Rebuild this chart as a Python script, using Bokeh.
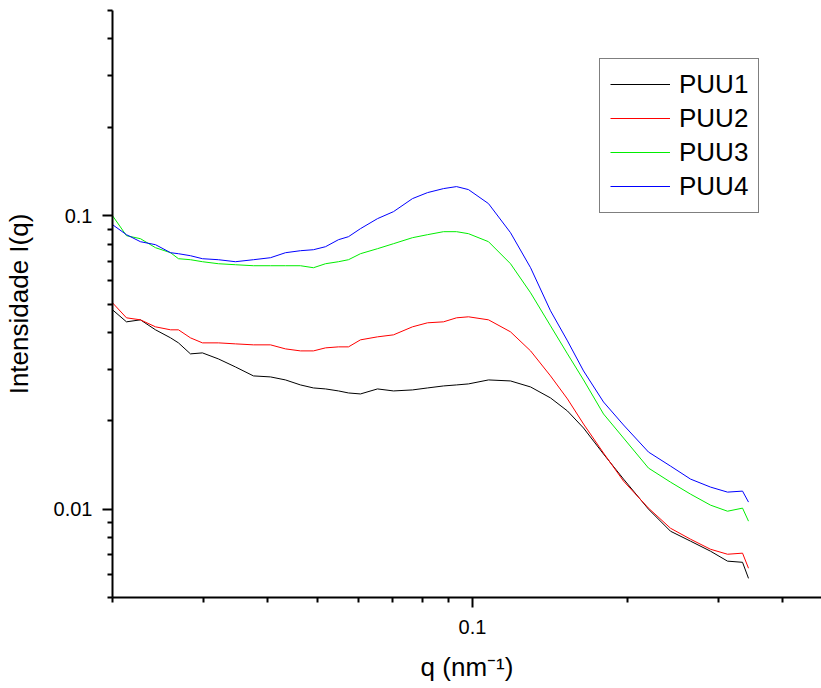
from bokeh.plotting import figure
from bokeh.models import Range1d, FixedTicker, ColumnDataSource, Legend, LegendItem
from bokeh.embed import file_html
from bokeh.resources import INLINE

# ---- data ----
q = [0.0200, 0.02129, 0.02266, 0.02424, 0.02593, 0.02686, 0.02834, 0.0299,
     0.03211, 0.03465, 0.03756, 0.04053, 0.04334, 0.04634, 0.04911, 0.05184,
     0.05493, 0.05744, 0.0606, 0.06539, 0.07024, 0.07646, 0.08178, 0.08784,
     0.0931, 0.09822, 0.10742, 0.11852, 0.12965, 0.14174, 0.1529, 0.16428,
     0.17963, 0.19645, 0.21963, 0.24235, 0.26504, 0.28981, 0.31271, 0.33443,
     0.34347]

puu1 = [0.04777, 0.04347, 0.04416, 0.04083, 0.03834, 0.03686, 0.03381, 0.03407,
        0.0325, 0.03052, 0.02844, 0.02822, 0.02756, 0.0265, 0.02588, 0.02568,
        0.02528, 0.02488, 0.02469, 0.02568, 0.02528, 0.02548, 0.02588, 0.02629,
        0.0265, 0.02671, 0.02756, 0.02734, 0.02608, 0.02393, 0.0216, 0.0189,
        0.01541, 0.01266, 0.01, 0.00841, 0.00778, 0.00719, 0.00665, 0.00659,
        0.00581]

puu2 = [0.05047, 0.04486, 0.04416, 0.0418, 0.04083, 0.04083, 0.03834, 0.03686,
        0.03686, 0.03657, 0.03629, 0.03629, 0.03516, 0.03461, 0.03461, 0.03544,
        0.03572, 0.03572, 0.03774, 0.03864, 0.03925, 0.0418, 0.04314, 0.04347,
        0.04486, 0.04522, 0.04416, 0.04019, 0.03461, 0.02844, 0.02374, 0.0195,
        0.01553, 0.01246, 0.01008, 0.00861, 0.0079, 0.0073, 0.00702, 0.00708,
        0.00629]

puu3 = [0.1, 0.08546, 0.08346, 0.07777, 0.07477, 0.07133, 0.07077, 0.06967,
        0.06858, 0.06804, 0.06751, 0.06751, 0.06751, 0.06751, 0.06646, 0.06858,
        0.06967, 0.07077, 0.07418, 0.07716, 0.08025, 0.08412, 0.08613, 0.08818,
        0.08818, 0.08681, 0.08152, 0.06858, 0.0546, 0.04213, 0.03381, 0.02756,
        0.0211, 0.01747, 0.0138, 0.01236, 0.01125, 0.01032, 0.00984, 0.01008,
        0.0091]

puu4 = [0.09317, 0.08613, 0.08152, 0.07962, 0.07477, 0.07418, 0.07303, 0.07133,
        0.07077, 0.06967, 0.07077, 0.07189, 0.07477, 0.07595, 0.07655, 0.07838,
        0.08281, 0.08479, 0.09029, 0.09767, 0.10319, 0.11429, 0.11981, 0.12364,
        0.1256, 0.12267, 0.10989, 0.08749, 0.06646, 0.0474, 0.03744, 0.02958,
        0.02318, 0.01935, 0.01565, 0.01402, 0.01266, 0.01189, 0.01143, 0.01152,
        0.01057]

series_names = ["PUU1", "PUU2", "PUU3", "PUU4"]
series_colors = ["#000000", "#ff0000", "#00ee00", "#0000ff"]

x_major = [0.1]
x_minor = [0.02, 0.03, 0.04, 0.05, 0.06, 0.07, 0.08, 0.09, 0.2, 0.3, 0.4]
x_labels = {0.1: "0.1"}
y_major = [0.01, 0.1]
y_minor = [0.005, 0.006, 0.007, 0.008, 0.009, 0.02, 0.03, 0.04, 0.05, 0.06,
           0.07, 0.08, 0.09, 0.2, 0.3, 0.4, 0.5]
y_labels = {0.01: "0.01", 0.1: "0.1"}

FONT = "Liberation Sans"

p = figure(width=821, height=688, x_axis_type="log", y_axis_type="log",
           x_range=Range1d(0.02, 0.476), y_range=Range1d(0.005, 0.5),
           output_backend="svg", toolbar_location=None,
           min_border_left=112, min_border_right=0, min_border_top=10,
           min_border_bottom=91)

p.outline_line_color = None
p.xgrid.visible = False
p.ygrid.visible = False
p.background_fill_color = "white"
p.border_fill_color = "white"

items = []
for name, col, ys in zip(series_names, series_colors, [puu1, puu2, puu3, puu4]):
    src = ColumnDataSource(data=dict(x=q, y=ys))
    r = p.line("x", "y", source=src, line_color=col, line_width=1)
    items.append(LegendItem(label=name, renderers=[r]))

p.xaxis.ticker = FixedTicker(ticks=x_major, minor_ticks=x_minor)
p.yaxis.ticker = FixedTicker(ticks=y_major, minor_ticks=y_minor)
p.xaxis.major_label_overrides = x_labels
p.yaxis.major_label_overrides = y_labels

for ax in (p.xaxis[0], p.yaxis[0]):
    ax.axis_line_width = 2
    ax.axis_line_color = "black"
    ax.major_tick_line_width = 2
    ax.minor_tick_line_width = 2
    ax.major_tick_in = 0
    ax.major_tick_out = 10
    ax.minor_tick_in = 0
    ax.minor_tick_out = 5
    ax.major_label_text_font = FONT
    ax.major_label_text_font_size = "20px"
    ax.major_label_text_color = "black"
    ax.axis_label_text_font = FONT
    ax.axis_label_text_font_size = "26px"
    ax.axis_label_text_font_style = "normal"
    ax.axis_label_text_color = "black"

p.xaxis.axis_label = "q (nm\u207b\u00b9)"
p.yaxis.axis_label = "Intensidade I(q)"
p.xaxis.major_label_standoff = 12
p.yaxis.major_label_standoff = 10
p.xaxis.axis_label_standoff = 15
p.yaxis.axis_label_standoff = 17

lg = Legend(items=items, location=(487, 384.5))
lg.label_text_font = FONT
lg.label_text_font_size = "26px"
lg.label_text_color = "black"
lg.glyph_width = 60
lg.label_standoff = 9
lg.padding = 10
lg.spacing = 3
lg.margin = 0
lg.border_line_color = "black"
lg.border_line_width = 1
lg.background_fill_color = "white"
lg.background_fill_alpha = 1
p.add_layout(lg, "center")

open("out.html", "w").write(file_html(p, INLINE))
